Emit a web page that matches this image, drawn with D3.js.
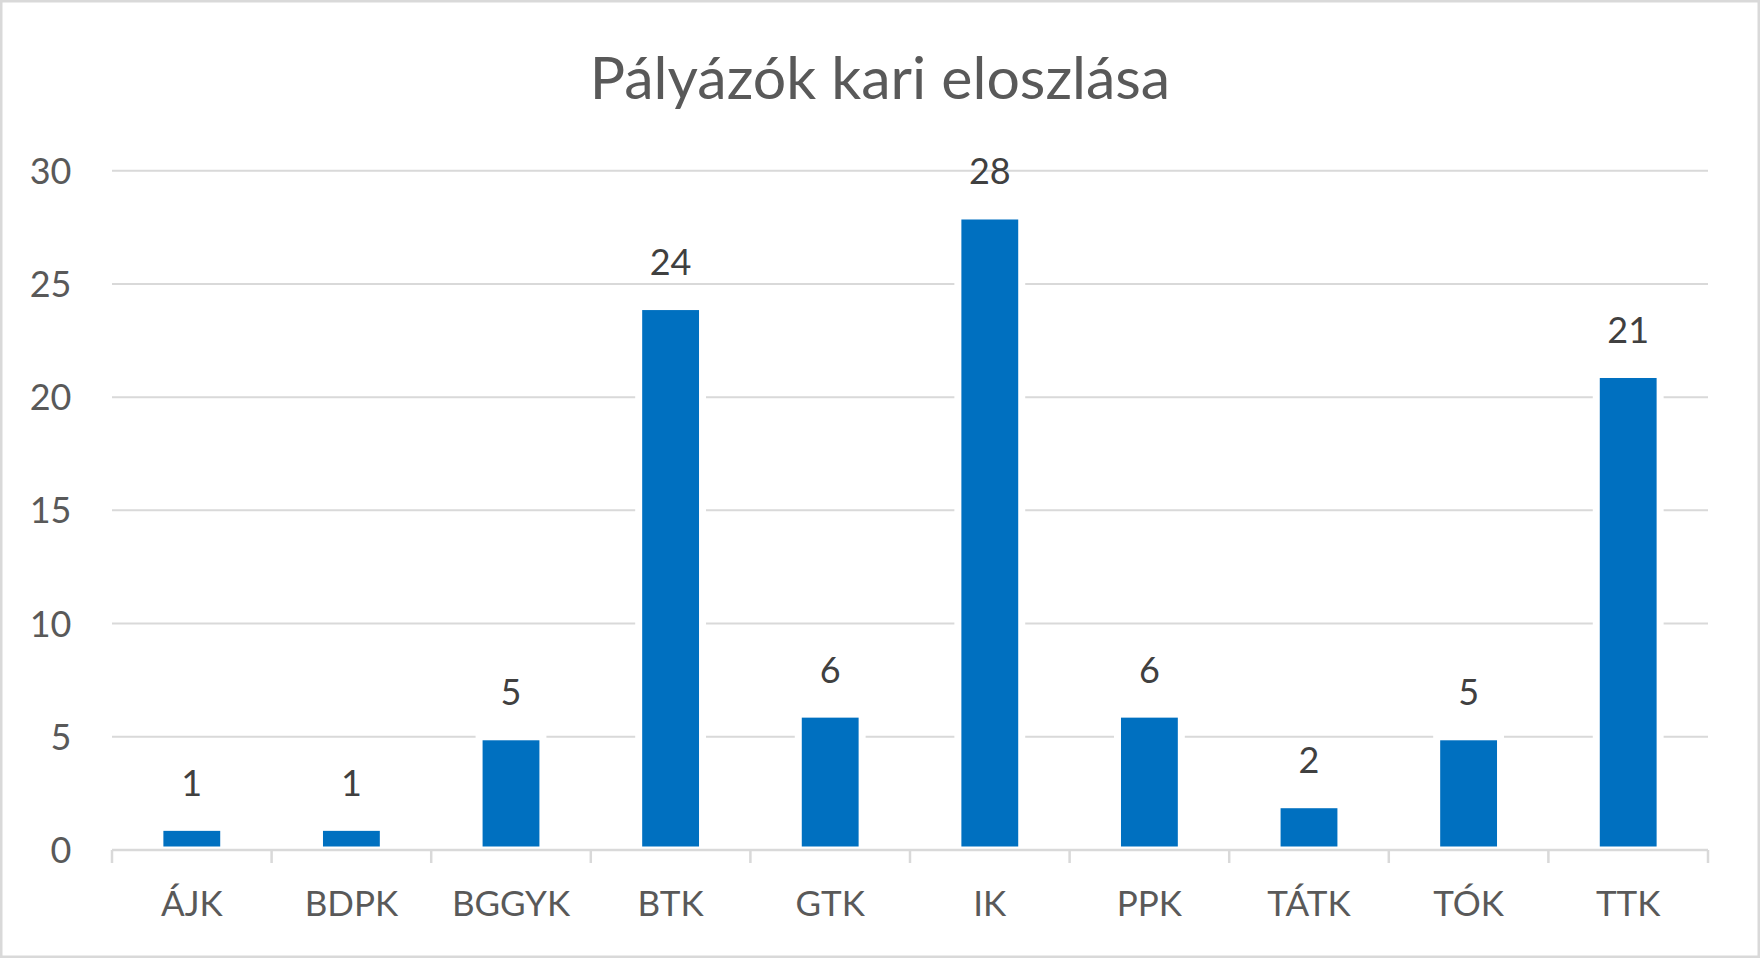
<!DOCTYPE html>
<html>
<head>
<meta charset="utf-8">
<script src="https://cdn.jsdelivr.net/npm/d3@7"></script>
<style>
  html, body { margin: 0; padding: 0; background: #fff; }
  text { font-family: Lato, "Open Sans", sans-serif; }
</style>
</head>
<body>
<div id="viz"></div>
<script>
const categories = ['ÁJK', 'BDPK', 'BGGYK', 'BTK', 'GTK', 'IK', 'PPK', 'TÁTK', 'TÓK', 'TTK'];
const values = [1, 1, 5, 24, 6, 28, 6, 2, 5, 21];
const yTicks = [0, 5, 10, 15, 20, 25, 30];
const title = 'Pályázók kari eloszlása';

const width = 1760;
const height = 958;
const plotLeft = 112;
const plotRight = 1708;
const plotTop = 170.7;
const plotBottom = 850;

const svg = d3.select('#viz')
      .append('svg')
      .attr('width', width)
      .attr('height', height);

// chart area border
svg.append('rect')
    .attr('x', 1.25)
    .attr('y', 1.25)
    .attr('width', width - 2.5)
    .attr('height', height - 2.5)
    .attr('fill', '#fff')
    .attr('stroke', '#d9d9d9')
    .attr('stroke-width', 2.5);

const x = d3.scaleBand()
      .domain(categories)
      .range([plotLeft, plotRight])
      .paddingInner(0.6)
      .paddingOuter(0.3);

const band = d3.scaleBand()
      .domain(categories)
      .range([plotLeft, plotRight]);

const y = d3.scaleLinear()
      .domain([0, 30])
      .range([plotBottom, plotTop]);

svg.append('text')
    .attr('x', 880)
    .attr('y', 99)
    .attr('text-anchor', 'middle')
    .attr('font-size', 59)
    .attr('fill', '#595959')
    .text(title);

// gridlines
svg.append('g')
    .selectAll('line')
    .data(yTicks.filter(d => d > 0))
    .join('line')
    .attr('x1', plotLeft)
    .attr('x2', plotRight)
    .attr('y1', d => y(d))
    .attr('y2', d => y(d))
    .attr('stroke', '#d9d9d9')
    .attr('stroke-width', 2);

// y labels
svg.append('g')
    .selectAll('text')
    .data(yTicks)
    .join('text')
    .attr('x', 71.5)
    .attr('y', d => y(d))
    .attr('dy', '0.36em')
    .attr('text-anchor', 'end')
    .attr('font-size', 36)
    .attr('fill', '#595959')
    .text(d => d);

// bars, white outline cuts the gridlines like in Excel
svg.append('g')
    .selectAll('rect')
    .data(values)
    .join('rect')
    .attr('x', (d, i) => x(categories[i]))
    .attr('y', d => y(d))
    .attr('width', x.bandwidth())
    .attr('height', d => plotBottom - y(d))
    .attr('fill', '#0070c0')
    .attr('stroke', '#fff')
    .attr('stroke-width', 7);

// data labels
svg.append('g')
    .selectAll('text')
    .data(values)
    .join('text')
    .attr('x', (d, i) => x(categories[i]) + x.bandwidth() / 2)
    .attr('y', d => y(d) - 31.5)
    .attr('text-anchor', 'middle')
    .attr('font-size', 36)
    .attr('fill', '#404040')
    .text(d => d);

// category axis
const axis = svg.append('g')
      .attr('stroke', '#d9d9d9')
      .attr('stroke-width', 2.5);

axis.append('line')
    .attr('x1', plotLeft)
    .attr('x2', plotRight)
    .attr('y1', plotBottom)
    .attr('y2', plotBottom);

axis.selectAll('line.tick')
    .data(categories.concat([null]))
    .join('line')
    .attr('class', 'tick')
    .attr('x1', d => d === null ? plotRight : band(d))
    .attr('x2', d => d === null ? plotRight : band(d))
    .attr('y1', plotBottom)
    .attr('y2', plotBottom + 13);

svg.append('g')
    .selectAll('text')
    .data(categories)
    .join('text')
    .attr('x', d => band(d) + band.bandwidth() / 2)
    .attr('y', 915.7)
    .attr('text-anchor', 'middle')
    .attr('font-size', 35)
    .attr('fill', '#595959')
    .text(d => d);
</script>
</body>
</html>
